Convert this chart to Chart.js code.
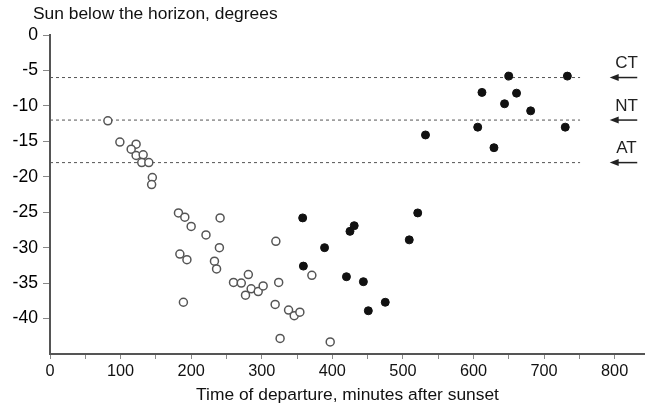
<!DOCTYPE html>
<html>
<head>
<meta charset="utf-8">
<script src="https://cdn.jsdelivr.net/npm/chart.js@4.4.1/dist/chart.umd.min.js"></script>
<style>
  html, body { margin: 0; padding: 0; background: #fff; }
  #wrap { width: 645px; height: 406px; }
</style>
</head>
<body>
<div id="wrap"><canvas id="sunChart" width="645" height="406"></canvas></div>
<script>
// departures before the threshold (open circles)
var earlyX = [82, 99, 122, 115, 122, 132, 130, 140, 145, 144,
    182, 191, 200, 221, 241, 240, 184, 194, 233, 236, 189,
    260, 271, 281, 285, 277, 295, 302, 320, 324, 319, 326,
    338, 346, 354, 371, 397];
var earlyY = [-12.1, -15.1, -15.4, -16.1, -17.0, -16.9, -18.0, -18.0, -20.1, -21.1,
    -25.1, -25.7, -27.0, -28.2, -25.8, -30.0, -30.9, -31.7, -31.9, -33.0, -37.7,
    -34.9, -35.0, -33.8, -35.8, -36.7, -36.2, -35.4, -29.1, -34.9, -38.0, -42.8,
    -38.8, -39.6, -39.1, -33.9, -43.3];

// later departures (filled circles)
var lateX = [358, 359, 389, 425, 431, 420, 444, 451, 475, 509, 521,
    650, 733, 612, 661, 644, 681, 606, 730, 532, 629];
var lateY = [-25.8, -32.6, -30.0, -27.7, -26.9, -34.1, -34.8, -38.9, -37.7, -28.9, -25.1,
    -5.8, -5.8, -8.1, -8.2, -9.7, -10.7, -13.0, -13.0, -14.1, -15.9];

// tick positions on both axes
var xTicks = [0, 50, 100, 150, 200, 250, 300, 350, 400, 450, 500, 550, 600, 650, 700, 750, 800];
var yTicks = [0, -5, -10, -15, -20, -25, -30, -35, -40];

// twilight limits: civil, nautical, astronomical
var twilightLevels = [-6, -12, -18];
var twilightNames = ["CT", "NT", "AT"];
var twilightEnd = 751;
var arrowFrom = 793, arrowTo = 832;

var yTitle = "Sun below the horizon, degrees";
var xTitle = "Time of departure, minutes after sunset";

var fontFamily = "'Liberation Sans', Arial, sans-serif";

var levelSets = twilightLevels.map(function (lv) {
    return {
        type: "line",
        data: [{ x: 0, y: lv }, { x: twilightEnd, y: lv }],
        borderColor: "#555",
        borderWidth: 1,
        borderDash: [3, 3],
        pointRadius: 0,
        fill: false,
    };
});

// arrows + CT/NT/AT text, and the y title in the top left
var annotations = {
    id: "annotations",
    afterDatasetsDraw: function (chart) {
        var ctx = chart.ctx;
        var xs = chart.scales.x, ys = chart.scales.y;
        ctx.save();
        ctx.strokeStyle = "#222";
        ctx.fillStyle = "#222";
        ctx.lineWidth = 1.5;
        twilightLevels.forEach(function (lv, i) {
            var py = ys.getPixelForValue(lv);
            var x1 = xs.getPixelForValue(arrowFrom);
            var x2 = xs.getPixelForValue(arrowTo);
            ctx.beginPath();
            ctx.moveTo(x1 + 4, py);
            ctx.lineTo(x2, py);
            ctx.stroke();
            ctx.beginPath();
            ctx.moveTo(x1, py);
            ctx.lineTo(x1 + 9, py - 3.5);
            ctx.lineTo(x1 + 9, py + 3.5);
            ctx.closePath();
            ctx.fill();
            ctx.font = "17px " + fontFamily;
            ctx.textAlign = "center";
            ctx.textBaseline = "middle";
            ctx.fillText(twilightNames[i], (x1 + x2) / 2 + 3, py - 14);
        });
        ctx.fillStyle = "#111";
        ctx.font = "17.4px " + fontFamily;
        ctx.textAlign = "left";
        ctx.textBaseline = "middle";
        ctx.fillText(yTitle, 33, 14);
        ctx.restore();
    },
};

function setTicks(values) {
    return function (scale) {
        scale.ticks = values.map(function (v) { return { value: v }; });
    };
}

var ctx = document.getElementById("sunChart");
var sunChart = new Chart(ctx, {
    type: "scatter",
    data: {
        datasets: [
            {
                data: earlyX.map(function (x, i) { return { x: x, y: earlyY[i] }; }),
                pointRadius: 4,
                pointBackgroundColor: "#fff",
                pointBorderColor: "#555",
                pointBorderWidth: 1.5,
            },
            {
                data: lateX.map(function (x, i) { return { x: x, y: lateY[i] }; }),
                pointRadius: 4,
                pointBackgroundColor: "#111",
                pointBorderColor: "#111",
                pointBorderWidth: 1,
            },
        ].concat(levelSets),
    },
    options: {
        responsive: false,
        animation: false,
        layout: { autoPadding: false, padding: { top: 35, left: 0, right: 0, bottom: 0 } },
        plugins: {
            legend: { display: false },
            tooltip: { enabled: false },
        },
        scales: {
            x: {
                type: "linear",
                min: 0,
                max: 843,
                afterBuildTicks: setTicks(xTicks),
                afterFit: function (scale) { scale.height = 52; },
                ticks: {
                    autoSkip: false,
                    maxRotation: 0,
                    padding: 3,
                    color: "#111",
                    font: { size: 16.3, family: fontFamily },
                    callback: function (v) { return v % 100 === 0 ? v : ""; },
                },
                grid: { drawOnChartArea: false, tickLength: 5, color: "#888" },
                border: { color: "#555", width: 2 },
                title: {
                    display: true,
                    text: xTitle,
                    color: "#111",
                    padding: { top: 0, bottom: 0 },
                    font: { size: 17.4, family: fontFamily },
                },
            },
            y: {
                type: "linear",
                min: -45,
                max: 0,
                afterBuildTicks: setTicks(yTicks),
                afterFit: function (scale) { scale.width = 50; },
                ticks: {
                    padding: 5,
                    color: "#000",
                    font: { size: 17.6, family: fontFamily },
                },
                grid: { drawOnChartArea: false, tickLength: 7, color: "#888" },
                border: { color: "#555", width: 2 },
            },
        },
    },
    plugins: [annotations],
});
</script>
</body>
</html>
